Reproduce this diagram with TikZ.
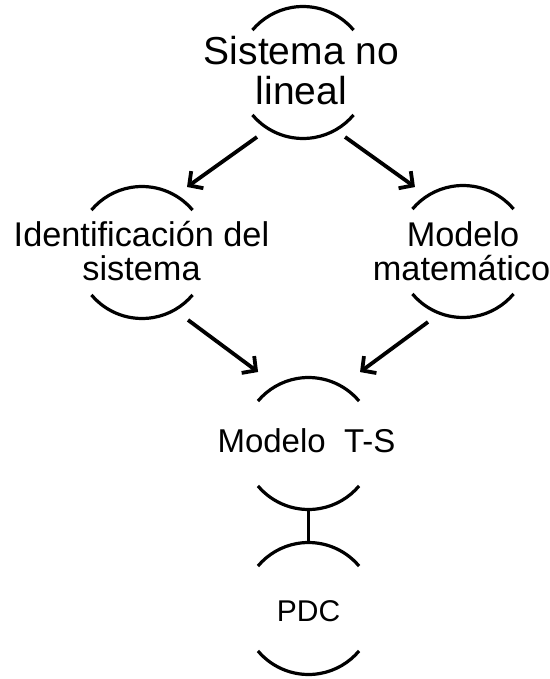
\documentclass[tikz,border=0pt]{standalone}
\usepackage{fontspec}
\setmainfont{Liberation Sans}
\usetikzlibrary{arrows.meta}
\begin{document}
\begin{tikzpicture}[x=1pt,y=-1pt,
  ring/.style={circle, minimum size=132pt, inner sep=0pt, outer sep=0pt},
  arcline/.style={line width=3.2pt},
  arr/.style={line width=3.8pt, -{Straight Barb[length=10pt,width=21pt]}},
  lbl/.style={anchor=base, inner sep=0pt},
  bigtxt/.style={font=\fontsize{39}{39}\selectfont},
  midtxt/.style={font=\fontsize{34.3}{34}\selectfont},
  lowtxt/.style={font=\fontsize{33}{33}\selectfont},
  pdctxt/.style={font=\fontsize{30}{30}\selectfont}]
\useasboundingbox (0,0) rectangle (549,679);
% rings (only top and bottom arcs are visible)
\node[ring] (c1) at (303,72.5) {};
\node[ring] (c2) at (142,252.5) {};
\node[ring] (c3) at (463,251.5) {};
\node[ring] (c4) at (308.5,443.5) {};
\node[ring] (c5) at (308.5,608.5) {};
\foreach \c in {c1,c2,c3,c4,c5}{
  \draw[arcline] ([shift={(40:66pt)}]\c.center) arc[start angle=40,end angle=140,radius=66pt];
  \draw[arcline] ([shift={(220:66pt)}]\c.center) arc[start angle=220,end angle=320,radius=66pt];
}
% texts
\node[lbl,bigtxt] (t1a) at (301.5,65) {Sistema no};
\node[lbl,bigtxt] (t1b) at (301.5,105) {lineal};
\node[lbl,midtxt] (t2a) at (141.5,246) {Identificación del};
\node[lbl,midtxt] (t2b) at (141.5,280) {sistema};
\node[lbl,midtxt] (t3a) at (463,246) {Modelo};
\node[lbl,midtxt] (t3b) at (461.5,280) {matemático};
\node[lbl,lowtxt] (t4) at (306.5,452) {Modelo~~T-S};
\node[lbl,pdctxt] (t5) at (308.5,621.5) {PDC};
% connectors
\draw[arr] ([shift={(234.5:79.2pt)}]c1.center) -- ([shift={(55.5:79.5pt)}]c2.center);
\draw[arr] ([shift={(303.1:77pt)}]c1.center) -- ([shift={(126.7:80.4pt)}]c3.center);
\draw[arr] ([shift={(304.3:81.7pt)}]c2.center) -- ([shift={(125.2:87.5pt)}]c4.center);
\draw[arr] ([shift={(243.6:78.7pt)}]c3.center) -- ([shift={(54.2:88.1pt)}]c4.center);
\draw[line width=3pt] (c4.south) -- (c5.north);
\end{tikzpicture}
\end{document}
